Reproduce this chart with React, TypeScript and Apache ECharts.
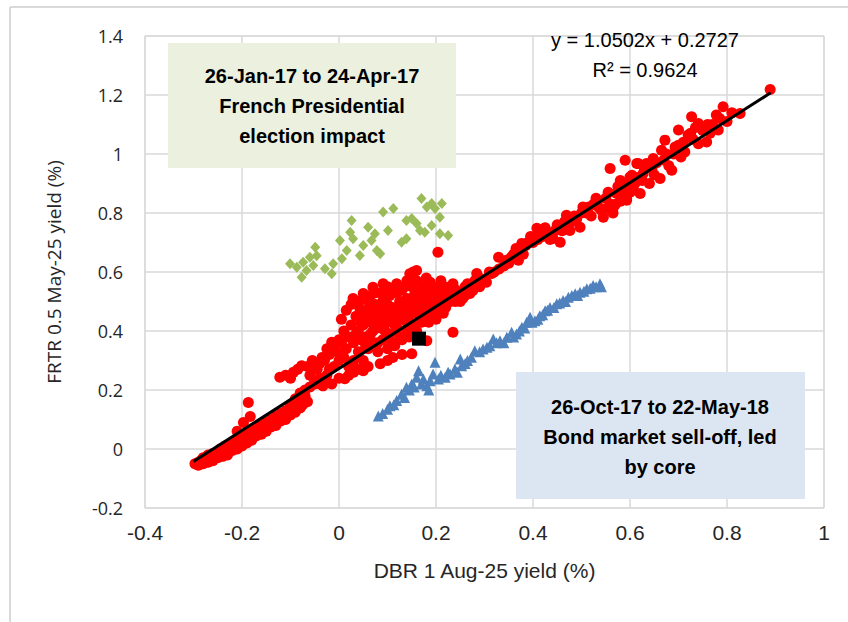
import React, { useEffect, useRef } from "react";
import * as echarts from "echarts";

// Red: full sample (DBR x, FRTR y)
const redX = [
  -0.297, -0.29, -0.285, -0.28, -0.275, -0.27, -0.265, -0.26, -0.255, -0.25, -0.245, -0.24, -0.235, -0.23, -0.225, -0.22, -0.215, -0.21, -0.205, -0.2,
  -0.195, -0.19, -0.185, -0.18, -0.175, -0.17, -0.165, -0.16, -0.155, -0.15, -0.145, -0.14, -0.135, -0.13, -0.125, -0.12, -0.115, -0.11, -0.105, -0.1,
  -0.095, -0.09, -0.08, -0.075, -0.27, -0.26, -0.25, -0.24, -0.23, -0.22, -0.187, -0.183, -0.197, -0.21,
  -0.29, -0.28, -0.27, -0.26, -0.25, -0.24, -0.23, -0.22, -0.21, -0.2, -0.19, -0.18, -0.17, -0.16, -0.15, -0.14, -0.13, -0.12, -0.11, -0.1, -0.09, -0.085, -0.075, -0.065,
  -0.122, -0.094, -0.077, -0.054, -0.07, -0.08, -0.033, -0.015, -0.06, -0.045, -0.04, -0.03, -0.025, -0.02, -0.01, -0.005, 0.0, -0.05, -0.04, -0.02,
  -0.1, -0.09, -0.08, -0.07, -0.06, -0.05, -0.04, -0.03,
  -0.11, -0.1, -0.085, -0.065, -0.055, -0.035, -0.025, -0.01, -0.015, 0.0, 0.012, 0.02, 0.03, 0.04, 0.05, 0.06, 0.085, 0.1, 0.111, 0.13,
  0.005, 0.01, 0.01, 0.015, 0.02, 0.02, 0.025, 0.03, 0.03, 0.033, 0.035, 0.04, 0.04, 0.043, 0.045, 0.05, 0.05, 0.05,
  0.055, 0.06, 0.06, 0.065, 0.065, 0.07, 0.07, 0.072, 0.075, 0.08, 0.08, 0.085, 0.085, 0.09, 0.09, 0.095, 0.1, 0.1, 0.1,
  0.105, 0.105, 0.11, 0.11, 0.115, 0.119, 0.12, 0.125, 0.125, 0.13, 0.13, 0.135, 0.14, 0.14, 0.145, 0.146, 0.15, 0.15, 0.15,
  0.153, 0.155, 0.16, 0.16, 0.165, 0.17, 0.17, 0.175, 0.18, 0.181, 0.185, 0.188, 0.19, 0.195, 0.2, 0.204, 0.205, 0.208, 0.21, 0.215, 0.222, 0.235, 0.235, 0.24, 0.245,
  0.0, 0.005, 0.015, 0.025, 0.029, 0.035, 0.04, 0.045, 0.05, 0.055, 0.055, 0.06, 0.065, 0.07, 0.075, 0.075, 0.08, 0.085, 0.09, 0.091,
  0.095, 0.095, 0.1, 0.105, 0.11, 0.115, 0.115, 0.12, 0.12, 0.125, 0.13, 0.135, 0.135, 0.14, 0.14, 0.145, 0.15, 0.155, 0.16, 0.16,
  0.165, 0.17, 0.175, 0.175, 0.18, 0.185, 0.19, 0.19, 0.195, 0.2, 0.2, 0.21, 0.215, 0.22, 0.225, 0.23, 0.24, 0.25, 0.26, 0.265,
  0.25, 0.255, 0.26, 0.27, 0.276, 0.284, 0.29, 0.3, 0.304, 0.315, 0.32, 0.329, 0.34, 0.35, 0.36, 0.369, 0.377, 0.38, 0.39, 0.408, 0.41, 0.42, 0.43, 0.441,
  0.28, 0.29, 0.31, 0.33, 0.345, 0.355, 0.365, 0.37, 0.385, 0.395, 0.4, 0.415, 0.425, 0.435, 0.445, 0.45, 0.465, 0.47, 0.485,
  0.456, 0.46, 0.469, 0.476, 0.48, 0.49, 0.497, 0.503, 0.51, 0.52, 0.53, 0.54, 0.545, 0.552, 0.559, 0.56, 0.565, 0.566, 0.572, 0.58, 0.58, 0.59, 0.59,
  0.593, 0.593, 0.6, 0.6, 0.604, 0.607, 0.614, 0.617, 0.621, 0.627, 0.634, 0.64, 0.648, 0.65, 0.662, 0.665, 0.672, 0.68, 0.686, 0.693, 0.7, 0.705,
  0.713, 0.72, 0.727, 0.73, 0.741, 0.741, 0.758, 0.765, 0.778, 0.782, 0.792, 0.8, 0.827, 0.889,
  0.5, 0.515, 0.525, 0.535, 0.55, 0.555, 0.57, 0.575, 0.585, 0.595, 0.61, 0.615, 0.625, 0.63, 0.645, 0.655, 0.67, 0.675, 0.69, 0.7,
  0.71, 0.725, 0.735, 0.75, 0.76, 0.77, 0.785, 0.81
];
const redY = [
  -0.05, -0.045, -0.04, -0.03, -0.035, -0.02, -0.03, -0.015, -0.02, -0.01, 0.0, -0.005, 0.01, 0.0, 0.015, 0.02, 0.01, 0.03, 0.025, 0.04,
  0.035, 0.05, 0.045, 0.06, 0.055, 0.07, 0.065, 0.08, 0.075, 0.09, 0.085, 0.1, 0.095, 0.11, 0.105, 0.12, 0.115, 0.13, 0.125, 0.14,
  0.135, 0.15, 0.14, 0.18, -0.04, -0.035, -0.025, -0.02, -0.015, 0.0, 0.158, 0.11, 0.09, 0.06,
  -0.055, -0.05, -0.045, -0.04, -0.03, -0.025, -0.02, -0.005, 0.0, 0.01, 0.02, 0.03, 0.045, 0.05, 0.06, 0.075, 0.08, 0.095, 0.1, 0.115, 0.125, 0.14, 0.15, 0.16,
  0.243, 0.26, 0.282, 0.28, 0.18, 0.14, 0.214, 0.362, 0.25, 0.27, 0.29, 0.3, 0.25, 0.32, 0.28, 0.33, 0.3, 0.22, 0.24, 0.27,
  0.15, 0.17, 0.19, 0.2, 0.21, 0.23, 0.22, 0.24,
  0.25, 0.24, 0.27, 0.28, 0.3, 0.31, 0.34, 0.35, 0.22, 0.24, 0.238, 0.25, 0.26, 0.27, 0.265, 0.28, 0.289, 0.3, 0.31, 0.32,
  0.36, 0.4, 0.31, 0.34, 0.38, 0.28, 0.42, 0.36, 0.3, 0.5, 0.45, 0.4, 0.33, 0.476, 0.37, 0.447, 0.3, 0.42,
  0.38, 0.47, 0.34, 0.52, 0.43, 0.548, 0.4, 0.36, 0.49, 0.45, 0.33, 0.53, 0.41, 0.5, 0.37, 0.46, 0.55, 0.43, 0.34,
  0.52, 0.39, 0.48, 0.36, 0.45, 0.56, 0.41, 0.5, 0.38, 0.54, 0.44, 0.47, 0.51, 0.4, 0.45, 0.594, 0.55, 0.323, 0.42,
  0.6, 0.49, 0.605, 0.46, 0.53, 0.43, 0.5, 0.56, 0.48, 0.367, 0.53, 0.565, 0.45, 0.51, 0.47, 0.667, 0.55, 0.527, 0.49, 0.46, 0.548, 0.396, 0.56, 0.5, 0.52,
  0.37, 0.44, 0.47, 0.49, 0.51, 0.39, 0.5, 0.43, 0.527, 0.46, 0.35, 0.5, 0.39, 0.46, 0.53, 0.42, 0.36, 0.47, 0.43, 0.56,
  0.52, 0.4, 0.49, 0.46, 0.54, 0.42, 0.35, 0.53, 0.48, 0.45, 0.37, 0.5, 0.55, 0.43, 0.57, 0.38, 0.48, 0.52, 0.4, 0.57,
  0.47, 0.54, 0.45, 0.51, 0.58, 0.43, 0.49, 0.55, 0.47, 0.52, 0.44, 0.57, 0.51, 0.48, 0.53, 0.5, 0.54, 0.5, 0.52, 0.56,
  0.53, 0.51, 0.55, 0.527, 0.537, 0.595, 0.55, 0.57, 0.565, 0.595, 0.6, 0.65, 0.62, 0.63, 0.66, 0.673, 0.697, 0.66, 0.7, 0.748, 0.71, 0.72, 0.73, 0.714,
  0.57, 0.58, 0.6, 0.61, 0.64, 0.65, 0.68, 0.64, 0.69, 0.72, 0.7, 0.73, 0.75, 0.71, 0.74, 0.76, 0.77, 0.75, 0.79,
  0.701, 0.74, 0.792, 0.741, 0.77, 0.78, 0.752, 0.82, 0.8, 0.79, 0.85, 0.81, 0.786, 0.816, 0.951, 0.83, 0.8, 0.82, 0.867, 0.91, 0.84, 0.979, 0.86,
  0.843, 0.85, 0.922, 0.87, 0.928, 0.877, 0.968, 0.968, 0.866, 0.934, 0.968, 0.9, 0.985, 0.93, 0.917, 1.013, 1.047, 0.96, 0.945, 1.024, 1.081, 0.99,
  1.007, 1.064, 1.126, 1.05, 1.103, 1.035, 1.041, 1.07, 1.132, 1.081, 1.16, 1.11, 1.137, 1.219,
  0.8, 0.82, 0.83, 0.82, 0.85, 0.87, 0.83, 0.89, 0.87, 0.9, 0.9, 0.92, 0.91, 0.95, 0.95, 0.97, 0.98, 1.0, 1.0, 1.03,
  1.04, 1.07, 1.09, 1.08, 1.1, 1.1, 1.12, 1.14
];

// Green: 26-Jan-17 to 24-Apr-17
const greenX = [
  -0.101, -0.087, -0.074, -0.067, -0.077, -0.06, -0.049, -0.046, -0.053, -0.029, -0.015, -0.012, 0.002, 0.006, 0.016, 0.026, 0.023, 0.029, 0.043, 0.05,
  0.06, 0.067, 0.078, 0.085, 0.074, 0.091, 0.101, 0.112, 0.129, 0.139, 0.139, 0.15, 0.16, 0.167, 0.17, 0.181, 0.191, 0.198, 0.212, 0.208, 0.191, 0.208, 0.225, 0.177
];
const greenY = [
  0.628, 0.616, 0.633, 0.605, 0.582, 0.65, 0.684, 0.655, 0.622, 0.611, 0.594, 0.628, 0.707, 0.645, 0.673, 0.775, 0.735, 0.713, 0.656, 0.69,
  0.752, 0.707, 0.673, 0.662, 0.73, 0.803, 0.741, 0.815, 0.701, 0.713, 0.775, 0.781, 0.764, 0.741, 0.849, 0.82, 0.832, 0.815, 0.832, 0.786, 0.758, 0.73, 0.724, 0.735
];

// Blue: 26-Oct-17 to 22-May-18
const blueX = [
  0.081, 0.09, 0.105, 0.119, 0.129, 0.139, 0.15, 0.16, 0.164, 0.174, 0.181, 0.188, 0.198, 0.194, 0.205, 0.219, 0.229, 0.239, 0.25, 0.253,
  0.273, 0.28, 0.297, 0.311, 0.318, 0.332, 0.346, 0.356, 0.366, 0.377, 0.387, 0.394, 0.404, 0.414, 0.425, 0.435, 0.449, 0.462, 0.473, 0.487,
  0.497, 0.511, 0.524, 0.538, 0.541,
  0.1, 0.113, 0.135, 0.145, 0.155, 0.17, 0.185, 0.21, 0.225, 0.244, 0.26, 0.265, 0.29, 0.305, 0.325, 0.34, 0.36, 0.372, 0.383, 0.398,
  0.41, 0.42, 0.43, 0.443, 0.455, 0.467, 0.48, 0.492, 0.505, 0.518, 0.53
];
const blueY = [
  0.112, 0.12, 0.147, 0.164, 0.186, 0.209, 0.22, 0.243, 0.265, 0.237, 0.214, 0.231, 0.294, 0.254, 0.237, 0.243, 0.254, 0.271, 0.305, 0.282,
  0.311, 0.333, 0.339, 0.35, 0.373, 0.367, 0.379, 0.396, 0.39, 0.413, 0.43, 0.447, 0.435, 0.452, 0.469, 0.48, 0.492, 0.503, 0.514, 0.526,
  0.531, 0.543, 0.554, 0.56, 0.55,
  0.135, 0.15, 0.175, 0.2, 0.21, 0.22, 0.2, 0.25, 0.26, 0.26, 0.29, 0.3, 0.33, 0.345, 0.36, 0.36, 0.38, 0.4, 0.41, 0.43,
  0.44, 0.455, 0.47, 0.48, 0.495, 0.5, 0.52, 0.52, 0.535, 0.545, 0.55
];

// Latest observation (black square)
const latestX = [0.165];
const latestY = [0.374];

// Regression line endpoints
const trendX = [-0.3, 0.89];
const slope = 1.0502;
const intercept = 0.2727;
const eqLabel = "y = 1.0502x + 0.2727";
const r2Label = "R² = 0.9624";

const xTicks = { min: -0.4, max: 1, interval: 0.2 };
const yTicks = { min: -0.2, max: 1.4, interval: 0.2 };

const boxGreenLines = ["26-Jan-17 to 24-Apr-17", "French Presidential", "election impact"];
const boxBlueLines = ["26-Oct-17 to 22-May-18", "Bond market sell-off, led", "by core"];

const zip = (a: number[], b: number[]) => a.map((v, i) => [v, b[i]]);
const fmt = (v: number) => {
  const r = Math.round(v * 10) / 10;
  return r === 0 ? "0" : String(r);
};

export default function App() {
  const ref = useRef<HTMLDivElement>(null);
  useEffect(() => {
    if (!ref.current) return;
    const chart = echarts.init(ref.current, null, { renderer: "svg" });
    const narrow = "'Liberation Sans Narrow', 'Liberation Sans', sans-serif";
    const open = "'Open Sans', 'Noto Sans', sans-serif";
    const gridL = 145, gridT = 36, gridR = 24, gridB = 114;
    chart.setOption({
      animation: false,
      backgroundColor: "#ffffff",
      grid: { left: gridL, top: gridT, right: gridR, bottom: gridB, show: true, borderColor: "#d9d9d9", borderWidth: 1 },
      xAxis: {
        type: "value",
        min: xTicks.min, max: xTicks.max, interval: xTicks.interval,
        axisLine: { show: false },
        axisTick: { show: false },
        splitLine: { lineStyle: { color: "#d9d9d9", width: 1.5 } },
        axisLabel: { formatter: fmt, color: "#262626", fontSize: 21, fontFamily: narrow, margin: 14 },
        name: "DBR 1 Aug-25 yield (%)",
        nameLocation: "middle",
        nameGap: 52,
        nameTextStyle: { color: "#262626", fontSize: 21, fontFamily: narrow },
      },
      yAxis: {
        type: "value",
        min: yTicks.min, max: yTicks.max, interval: yTicks.interval,
        axisLine: { show: false },
        axisTick: { show: false },
        splitLine: { lineStyle: { color: "#d9d9d9", width: 1.5 } },
        axisLabel: { formatter: fmt, color: "#262626", fontSize: 18, fontFamily: open, margin: 22 },
        name: "FRTR 0.5 May-25 yield (%)",
        nameLocation: "middle",
        nameGap: 82,
        nameTextStyle: { color: "#262626", fontSize: 19, fontFamily: open },
      },
      graphic: [
        { type: "line", shape: { x1: 10, y1: 7, x2: 848, y2: 7 }, style: { stroke: "#d9d9d9", lineWidth: 2 }, z: 0 },
        { type: "line", shape: { x1: 10, y1: 7, x2: 10, y2: 622 }, style: { stroke: "#d9d9d9", lineWidth: 2 }, z: 0 },
        { type: "rect", shape: { x: 168, y: 43, width: 288, height: 125 }, style: { fill: "#ebf1de" }, z: 5 },
        {
          type: "text", x: 312, y: 106, z: 6,
          style: { text: boxGreenLines.join("\n"), fill: "#000000", font: `bold 20px ${narrow}`, align: "center", verticalAlign: "middle", lineHeight: 30 },
        },
        { type: "rect", shape: { x: 516, y: 372, width: 289, height: 127 }, style: { fill: "#dce6f2" }, z: 5 },
        {
          type: "text", x: 660, y: 437, z: 6,
          style: { text: boxBlueLines.join("\n"), fill: "#000000", font: `bold 20px ${narrow}`, align: "center", verticalAlign: "middle", lineHeight: 30 },
        },
        {
          type: "text", x: 645, y: 40, z: 6,
          style: { text: eqLabel, fill: "#000000", font: `20px ${narrow}`, align: "center", verticalAlign: "middle" },
        },
        {
          type: "text", x: 645, y: 70, z: 6,
          style: { text: r2Label, fill: "#000000", font: `20px ${narrow}`, align: "center", verticalAlign: "middle" },
        },
      ],
      series: [
        {
          type: "scatter", data: zip(greenX, greenY), symbol: "diamond", symbolSize: [10, 11],
          itemStyle: { color: "#9bbb59", opacity: 1 }, z: 3,
        },
        {
          type: "scatter", data: zip(blueX, blueY), symbol: "triangle", symbolSize: 11,
          itemStyle: { color: "#4f81bd", opacity: 1 }, z: 3,
        },
        {
          type: "scatter", data: zip(redX, redY), symbol: "circle", symbolSize: 11,
          itemStyle: { color: "#ff0000", opacity: 1 }, z: 3,
        },
        {
          type: "line", data: trendX.map((x) => [x, slope * x + intercept]), symbol: "none",
          lineStyle: { color: "#000000", width: 3 }, z: 4,
        },
        {
          type: "scatter", data: zip(latestX, latestY), symbol: "rect", symbolSize: 14,
          itemStyle: { color: "#000000", opacity: 1 }, z: 5,
        },
      ],
    });
    return () => chart.dispose();
  }, []);
  return <div ref={ref} style={{ position: "fixed", left: 0, top: 0, width: 848, height: 622 }} />;
}
